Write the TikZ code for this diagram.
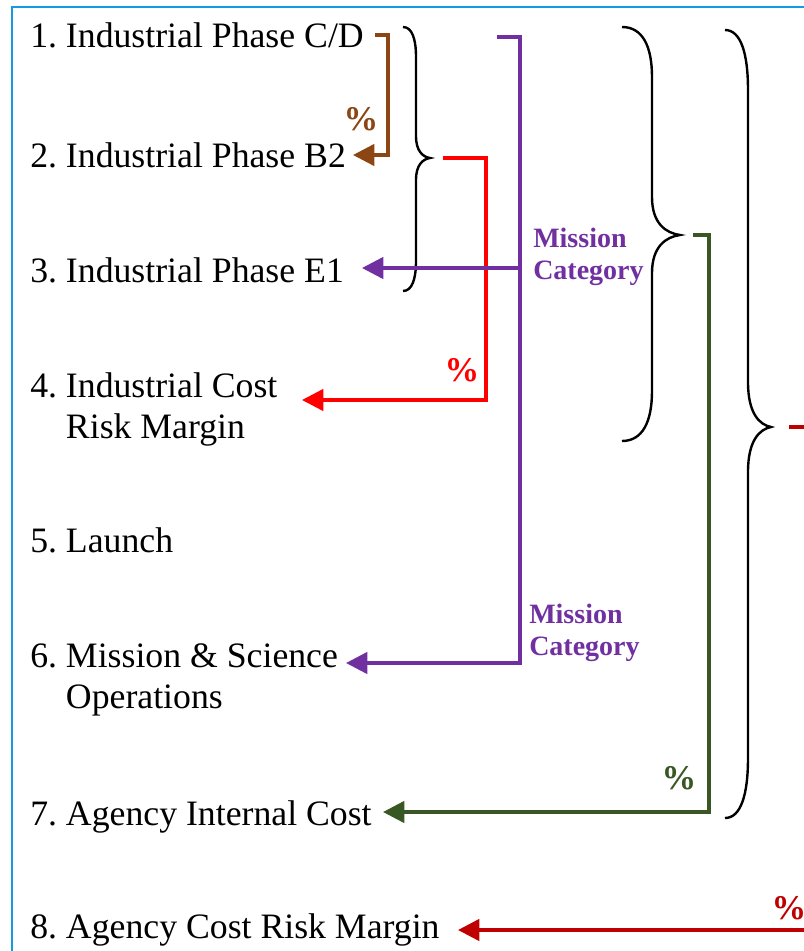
\documentclass[tikz,border=0pt]{standalone}
\usepackage{fontspec}
\setmainfont{Liberation Serif}
\usetikzlibrary{arrows.meta}
\frenchspacing

\definecolor{frameblue}{RGB}{20,155,225}
\definecolor{cdbrown}{RGB}{140,70,20}
\definecolor{marginred}{RGB}{255,0,0}
\definecolor{mcpurple}{RGB}{112,48,160}
\definecolor{agencygreen}{RGB}{56,87,35}
\definecolor{agencyred}{RGB}{192,0,0}

\tikzset{
  item/.style={anchor=base west,inner sep=0pt,align=left,font=\fontsize{26.8}{30.75}\selectfont},
  link/.style={line width=2.6pt,-{Triangle[length=16pt,width=16pt]}},
  curl/.style={line width=1.8pt},
  pct/.style={inner sep=0pt,font=\fontsize{26}{26}\selectfont\bfseries},
  mcat/.style={anchor=north west,inner sep=0pt,align=left,text=mcpurple,font=\fontsize{21}{24}\selectfont\bfseries},
}

% brace: end x, spine x, tip x, top y, tip y, bottom y, end curl, tip curl
\newcommand\curlybrace[8]{%
  \draw[curl] (#1,#4) .. controls (#1+0.7*#2-0.7*#1,#4) and (#2,#4+0.4*#7) .. (#2,#4+#7)
    -- (#2,#5-#8) .. controls (#2,#5-0.3*#8) and (#2+0.5*#3-0.5*#2,#5-0.05*#8) .. (#3,#5)
    .. controls (#2+0.5*#3-0.5*#2,#5+0.05*#8) and (#2,#5+0.3*#8) .. (#2,#5+#8)
    -- (#2,#6-#7) .. controls (#2,#6-0.4*#7) and (#1+0.7*#2-0.7*#1,#6) .. (#1,#6);}

\begin{document}
\begin{tikzpicture}[x=0.75pt,y=-0.75pt]
\clip (0,0) rectangle (804,951);
\draw[frameblue,line width=2pt] (12,960) -- (12,7) -- (810,7);

% cost items (two-line items sit on their last line)
\node[item] (i1) at (30,47) {1. Industrial Phase C/D};
\node[item] (i2) at (30,167) {2. Industrial Phase B2};
\node[item] (i3) at (30,282) {3. Industrial Phase E1};
\node[item] (i4) at (30,438) {4. Industrial Cost\\\phantom{4. }Risk Margin};
\node[item] (i5) at (30,552) {5. Launch};
\node[item] (i6) at (30,708) {6. Mission \& Science\\\phantom{6. }Operations};
\node[item] (i7) at (30,825) {7. Agency Internal Cost};
\node[item] (i8) at (30,938) {8. Agency Cost Risk Margin};

% braces grouping the items
\curlybrace{403}{416}{430}{27}{158}{291}{30}{22}
\curlybrace{622}{652}{680}{27}{235}{441}{50}{38}
\curlybrace{725}{748}{771}{30}{427}{818}{60}{45}

% start and end points of the links
\coordinate (cd) at (375,35);
\coordinate (brA) at (443,158);
\coordinate (mc) at (497,37);
\coordinate (brB) at (693,235);
\coordinate (brC) at (789,427);
\coordinate (to2) at (353,155);
\coordinate (to3) at (362,268);
\coordinate (to4) at (302,400);
\coordinate (to6) at (346,663);
\coordinate (to7) at (383,812);
\coordinate (to8) at (458,930);

\draw[link,cdbrown] (cd) -- ++(13,0) |- (to2);
\draw[link,marginred] (brA) -- ++(43,0) |- (to4);
\draw[link,mcpurple] (mc) -- ++(23,0) |- (to6);
\draw[link,mcpurple] (to3 -| 520,0) -- (to3);
\draw[link,agencygreen] (brB) -- ++(16,0) |- (to7);
\draw[line width=2.6pt,agencyred] (brC) -- ++(40,0);
\draw[link,agencyred] (to8 -| 830,0) -- (to8);

\node[pct,text=cdbrown] (p1) at (361,119) {\%};
\node[pct,text=marginred] (p2) at (462,370) {\%};
\node[pct,text=agencygreen] (p3) at (679,778) {\%};
\node[pct,text=agencyred] (p4) at (789,908) {\%};

\node[mcat] (m1) at (533,228) {Mission\\Category};
\node[mcat] (m2) at (529,604) {Mission\\Category};
\end{tikzpicture}
\end{document}
